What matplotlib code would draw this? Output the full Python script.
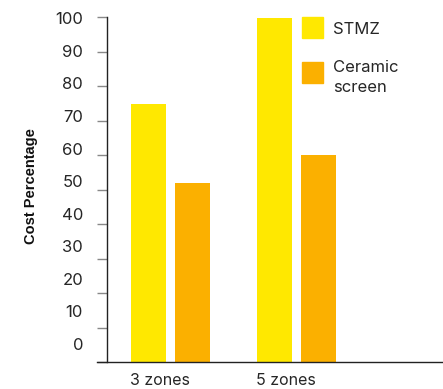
import matplotlib
matplotlib.use("Agg")
import matplotlib.pyplot as plt
import numpy as np
from matplotlib.patches import Rectangle

categories = ["3 zones", "5 zones"]
series_names = ["STMZ", "Ceramic\nscreen"]
stmz = [75, 100]
ceramic = [52, 60]
yticks = [0, 10, 20, 30, 40, 50, 60, 70, 80, 90, 100]
ytick_labels = ["0", "10", "20", "30", "40", "50", "60", "70", "80", "90", "100"]

YELLOW = "#FFE800"
ORANGE = "#FBB000"
TEXT = "#262626"

fig = plt.figure(figsize=(4.43, 3.89), dpi=100)
ax = fig.add_axes([106.7/443, (389-362.3)/389, 1-106.7/443, (362.3-17.5)/389])

x = np.arange(len(categories))
w = 35/126
off = 22/126
ax.bar(x - off, stmz, width=w, color=YELLOW, zorder=2)
ax.bar(x + off, ceramic, width=w, color=ORANGE, zorder=2)

ax.set_xlim(-0.506, 2.163)
ax.set_ylim(0, 100)

for s in ["top", "right"]:
    ax.spines[s].set_visible(False)
ax.spines["left"].set_color("#222222")
ax.spines["bottom"].set_color("#222222")
ax.spines["left"].set_linewidth(1.0)
ax.spines["bottom"].set_linewidth(1.0)
ax.spines["bottom"].set_bounds(-0.506 - 10/126, 2.163)
ax.spines["bottom"].set_clip_on(False)

# tick marks (no labels)
ax.set_yticks(yticks)
ax.set_yticklabels([""] * len(yticks))
ax.tick_params(axis="y", which="major", length=7.2, width=1.0, color="#888888")
# labels (evenly spread as in the reference)
label_pos = [5.3 + 0.945 * v for v in yticks]
ax.set_yticks(label_pos, minor=True)
ax.set_yticklabels(ytick_labels, minor=True, fontsize=12, color=TEXT, family="Inter")
ax.tick_params(axis="y", which="minor", length=0, pad=17)

ax.set_xticks(x - 0.083)
ax.set_xticklabels(categories, fontsize=11.5, color=TEXT, family="Inter")
ax.tick_params(axis="x", length=0, pad=8)

fig.text(31/443, 1 - 186/389, "Cost Percentage", rotation=90, ha="center", va="center",
         fontsize=10.5, fontweight="bold", family="Liberation Sans", color="#111111")

# legend
for i, (name, col) in enumerate(zip(series_names, [YELLOW, ORANGE])):
    y0 = [17, 62][i]
    fig.patches.append(Rectangle((302/443, 1 - (y0 + 21)/389), 21/443, 21/389,
                                 transform=fig.transFigure, color=col, figure=fig))
    ty = [29, 60][i]
    fig.text(333/443, 1 - ty/389, name, ha="left", va="center" if i == 0 else "top",
             fontsize=12, color=TEXT, family="Inter", linespacing=1.45)

fig.savefig("out.png", dpi=100)
